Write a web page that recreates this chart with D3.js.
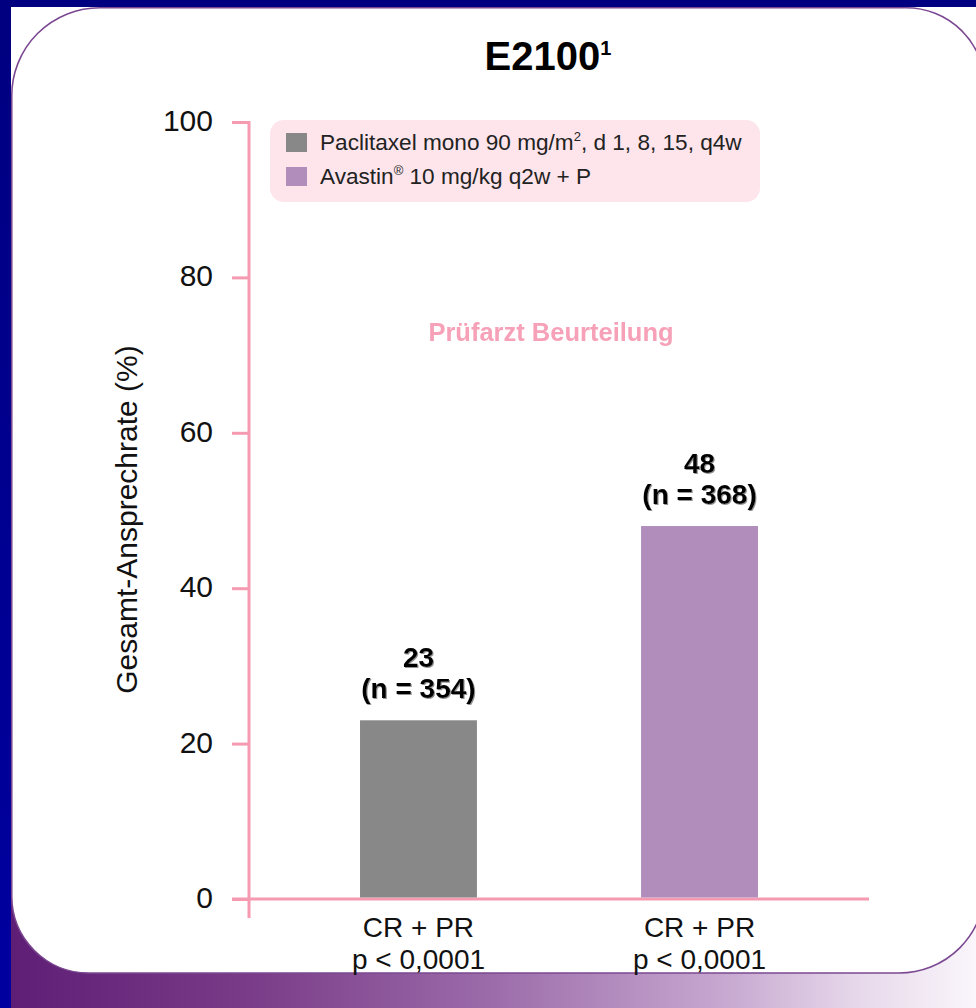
<!DOCTYPE html>
<html>
<head>
<meta charset="utf-8">
<script src="https://cdn.jsdelivr.net/npm/d3@7"></script>
<style>
  html, body { margin: 0; padding: 0; background: #ffffff; }
  svg { display: block; font-family: "Liberation Sans", Arial, Helvetica, sans-serif; }
</style>
</head>
<body>
<script>
// Response rates (CR + PR), investigator assessment, E2100 trial
const arms = ["Paclitaxel", "Avastin + P"];
const responseRates = [23, 48];
const patientCounts = [354, 368];
const categoryLabels = ["CR + PR", "CR + PR"];
const pValueLabels = ["p < 0,0001", "p < 0,0001"];
const yTickValues = [0, 20, 40, 60, 80, 100];
const armColors = ["#888888", "#b18dbc"];

const W = 976, H = 1008;
const pink = "#f59ab1";

const svg = d3.select("body").append("svg")
  .attr("width", W).attr("height", H)
  .attr("viewBox", `0 0 ${W} ${H}`);

const defs = svg.append("defs");

const band = defs.append("linearGradient").attr("id", "band")
  .attr("x1", "0%").attr("x2", "100%").attr("y1", "0%").attr("y2", "0%");
[[0, "#5e1e76"], [0.25, "#7a3c88"], [0.5, "#9c6caa"], [0.75, "#c9abd2"], [0.88, "#e7d9eb"], [1, "#faf6fb"]]
  .forEach(([o, c]) => band.append("stop").attr("offset", o).attr("stop-color", c));

const side = defs.append("linearGradient").attr("id", "side")
  .attr("x1", "0%").attr("x2", "0%").attr("y1", "0%").attr("y2", "100%");
side.append("stop").attr("offset", 0).attr("stop-color", "#000080");
side.append("stop").attr("offset", 1).attr("stop-color", "#0000a0");

const shadow = defs.append("filter").attr("id", "txtShadow")
  .attr("x", "-10%").attr("y", "-20%").attr("width", "130%").attr("height", "150%");
shadow.append("feDropShadow").attr("dx", 1).attr("dy", 1)
  .attr("stdDeviation", 0.7).attr("flood-color", "#777").attr("flood-opacity", 0.8);

const soft = defs.append("filter").attr("id", "soft");
soft.append("feGaussianBlur").attr("stdDeviation", 0.45);

// slide frame
svg.append("rect").attr("x", 0).attr("y", 0).attr("width", W).attr("height", H).attr("fill", "#ffffff");
svg.append("rect").attr("x", 11).attr("y", 880).attr("width", W - 11).attr("height", H - 880).attr("fill", "url(#band)");
svg.append("rect").attr("x", 0).attr("y", 0).attr("width", W).attr("height", 7).attr("fill", "#000080");
svg.append("rect").attr("x", 0).attr("y", 0).attr("width", 11).attr("height", H).attr("fill", "url(#side)");

const L = 11.75, T = 7.75, R = 985, B = 973;
const rTL = 88, rTR = 79, rBR = 86, rBL = 77;
const card = d3.path();
card.moveTo(L, T + rTL);
card.arcTo(L, T, L + rTL, T, rTL);
card.lineTo(R - rTR, T);
card.arcTo(R, T, R, T + rTR, rTR);
card.lineTo(R, B - rBR);
card.arcTo(R, B, R - rBR, B, rBR);
card.lineTo(L + rBL, B);
card.arcTo(L, B, L, B - rBL, rBL);
card.closePath();
svg.append("path").attr("d", card.toString())
  .attr("fill", "#ffffff").attr("stroke", "#7b4891").attr("stroke-width", 1.6);

// scales
const y = d3.scaleLinear().domain([0, 100]).range([899, 122]);
const x = d3.scaleBand().domain(arms).range([249, 869])
  .paddingInner(0.584).paddingOuter(0.395);

// title
const title = svg.append("text").attr("x", 548).attr("y", 70)
  .attr("text-anchor", "middle").attr("font-weight", "bold").attr("font-size", 40).attr("fill", "#000");
title.append("tspan").text("E2100");
title.append("tspan").attr("font-size", 20).attr("dy", -15).text("1");

// y axis
const yAxis = d3.axisLeft(y).tickValues(yTickValues).tickSize(17).tickPadding(19);
const gy = svg.append("g").attr("transform", `translate(${x.range()[0]},0)`).call(yAxis);
gy.select(".domain").remove();
gy.selectAll(".tick line").attr("stroke", pink).attr("stroke-width", 3);
gy.selectAll(".tick text").attr("font-size", 30).attr("fill", "#111")
  .attr("font-family", "Liberation Sans, Arial, sans-serif").attr("dy", "0.28em");
gy.append("line").attr("x1", 0).attr("x2", 0)
  .attr("y1", y(100) - 1).attr("y2", y(0) + 19)
  .attr("stroke", pink).attr("stroke-width", 3);

svg.append("text")
  .attr("transform", `translate(137,${(y(0) + y(100)) / 2 + 9}) rotate(-90)`)
  .attr("text-anchor", "middle").attr("font-size", 30).attr("fill", "#111")
  .text("Gesamt-Ansprechrate (%)");

// x axis line
svg.append("line")
  .attr("x1", x.range()[0] - 17).attr("x2", x.range()[1])
  .attr("y1", y(0)).attr("y2", y(0))
  .attr("stroke", pink).attr("stroke-width", 3);

// legend
const legend = svg.append("g");
legend.append("rect").attr("x", 270).attr("y", 120).attr("width", 490).attr("height", 82)
  .attr("rx", 14).attr("fill", "#fde5eb");
const legendRows = [
  [{ t: "Paclitaxel mono 90 mg/m" }, { t: "2", sup: true }, { t: ", d 1, 8, 15, q4w" }],
  [{ t: "Avastin" }, { t: "®", sup: true }, { t: " 10 mg/kg q2w + P" }]
];
legendRows.forEach((parts, i) => {
  const ly = 150 + i * 34;
  legend.append("rect").attr("x", 286).attr("y", ly - 17).attr("width", 21).attr("height", 19)
    .attr("fill", armColors[i]);
  const t = legend.append("text").attr("x", 320).attr("y", ly)
    .attr("font-size", 22.6).attr("fill", "#222");
  parts.forEach(p => {
    if (p.sup) {
      t.append("tspan").attr("font-size", 13).attr("dy", -9).text(p.t);
    } else {
      const s = t.append("tspan").text(p.t);
      if (t.selectAll("tspan").size() > 1) s.attr("dy", 9);
    }
  });
});

// annotation
svg.append("text").attr("x", 551).attr("y", 341)
  .attr("text-anchor", "middle").attr("font-weight", "bold").attr("font-size", 25.5)
  .attr("fill", "#f7a1b8").attr("filter", "url(#soft)")
  .text("Prüfarzt Beurteilung");

// bars
svg.selectAll("rect.bar").data(arms).join("rect").attr("class", "bar")
  .attr("x", d => x(d)).attr("width", x.bandwidth())
  .attr("y", (d, i) => y(responseRates[i]))
  .attr("height", (d, i) => y(0) - y(responseRates[i]) - 1.5)
  .attr("fill", (d, i) => armColors[i]);

// value labels
const vl = svg.selectAll("g.vlabel").data(arms).join("g").attr("class", "vlabel")
  .attr("filter", "url(#txtShadow)");
vl.append("text")
  .attr("x", d => x(d) + x.bandwidth() / 2)
  .attr("y", (d, i) => y(responseRates[i]) - 53)
  .attr("text-anchor", "middle").attr("font-weight", "bold").attr("font-size", 28).attr("fill", "#000")
  .text((d, i) => responseRates[i]);
vl.append("text")
  .attr("x", d => x(d) + x.bandwidth() / 2)
  .attr("y", (d, i) => y(responseRates[i]) - 22)
  .attr("text-anchor", "middle").attr("font-weight", "bold").attr("font-size", 28).attr("fill", "#000")
  .text((d, i) => `(n = ${patientCounts[i]})`);

// category labels
const cl = svg.selectAll("text.cat").data(arms).join("text").attr("class", "cat")
  .attr("x", d => x(d) + x.bandwidth() / 2)
  .attr("text-anchor", "middle").attr("font-size", 28).attr("fill", "#111");
cl.append("tspan").attr("x", d => x(d) + x.bandwidth() / 2).attr("y", y(0) + 38)
  .text((d, i) => categoryLabels[i]);
cl.append("tspan").attr("x", d => x(d) + x.bandwidth() / 2).attr("y", y(0) + 70)
  .text((d, i) => pValueLabels[i]);
</script>
</body>
</html>
